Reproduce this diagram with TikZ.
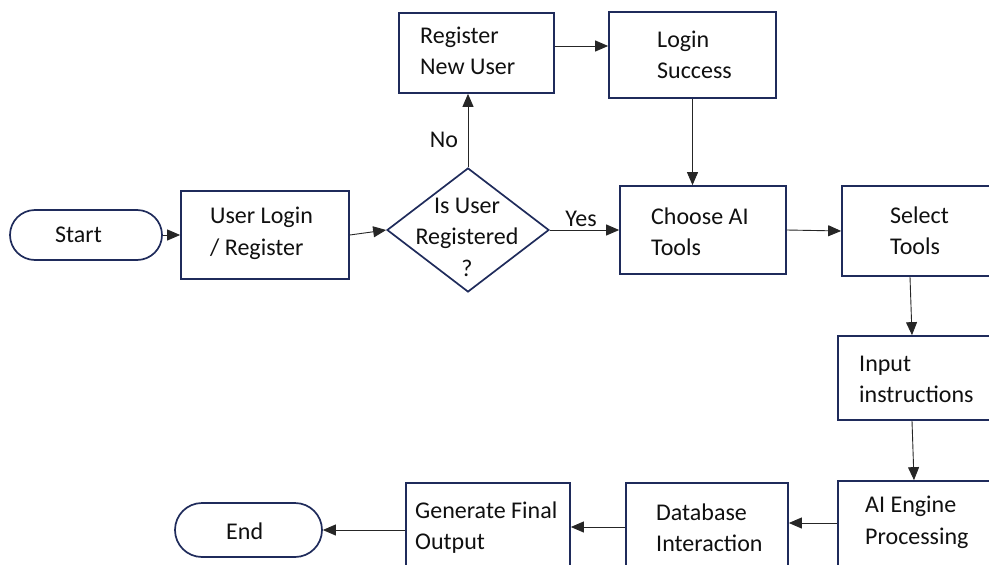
\documentclass[tikz,border=0pt]{standalone}
\usepackage{fontspec}
\setmainfont{Carlito}
\usetikzlibrary{shapes.geometric,shapes.misc,arrows.meta}
\definecolor{boxline}{HTML}{1F2B5B}
\definecolor{txt}{HTML}{101010}
\begin{document}
\begin{tikzpicture}[x=1pt,y=-1pt,
  box/.style={draw=boxline,line width=1.7pt,inner sep=0pt,minimum width=#1},
  term/.style={draw=boxline,line width=1.7pt,rounded rectangle,inner sep=0pt},
  decision/.style={draw=boxline,line width=1.7pt,diamond,inner sep=0pt,
    minimum width=162pt,minimum height=124pt},
  lbl/.style={anchor=west,align=left,text=txt,inner sep=0pt,
    font=\fontsize{24}{31.5}\selectfont},
  arr/.style={draw=black!85,line width=0.9pt,-{Triangle[length=13pt,width=11pt]}}
]
\useasboundingbox (0,0) rectangle (989,565);
\clip (0,0) rectangle (989,565);

% terminals
\node[term,minimum width=152pt,minimum height=50pt] (start) at (86,235) {};
\node[term,minimum width=147pt,minimum height=54pt] (stop) at (248.5,530) {};

% process boxes
\node[box=168pt,minimum height=88pt] (login) at (265,235) {};
\node[box=155pt,minimum height=80pt] (regnew) at (476.5,53) {};
\node[box=167pt,minimum height=86pt] (loginok) at (692.5,55) {};
\node[box=166pt,minimum height=88pt] (choose) at (703,230) {};
\node[box=168pt,minimum height=90pt] (select) at (926,231) {};
\node[box=168pt,minimum height=84pt] (input) at (922,378) {};
\node[box=168pt,minimum height=88pt] (engine) at (922,525) {};
\node[box=162pt,minimum height=88pt] (dbase) at (707,527) {};
\node[box=164pt,minimum height=88pt] (gen) at (488,527) {};

% decision
\node[decision] (dia) at (468,230) {};

% texts
\node[lbl] (tstart) at (55,235) {Start};
\node[lbl] (tstop) at (226,531) {End};
\node[lbl] (tlogin) at (210,233.5) {User Login\\/ Register};
\node[lbl] (tregnew) at (420,51) {Register\\New User};
\node[lbl] (tloginok) at (657,55) {Login\\Success};
\node[lbl] (tchoose) at (651,232) {Choose AI\\Tools};
\node[lbl] (tselect) at (890,231) {Select\\Tools};
\node[lbl] (tinput) at (859,379.5) {Input\\instructions};
\node[lbl] (tengine) at (865,522.5) {AI Engine\\Processing};
\node[lbl] (tdbase) at (656,527.5) {Database\\Interaction};
\node[lbl] (tgen) at (415,527.5) {Generate Final\\Output};
\node[lbl,anchor=center,align=center] (tdia) at (467,237) {Is User\\Registered\\?};
\node[lbl,anchor=center] (tno) at (444,140) {No};
\node[lbl,anchor=center] (tyes) at (581,219) {Yes};

% connectors
\draw[arr] (start.east) -- (login.west);
\draw[arr] (login.east) -- (dia.west);
\draw[arr] (dia.north) -- (dia.north |- regnew.south);
\draw[arr] (dia.east) -- (choose.west);
\coordinate (rn) at ([yshift=7pt]regnew.east);
\draw[arr] (rn) -- (rn -| loginok.west);
\draw[arr] (loginok.south) -- (loginok.south |- choose.north);
\draw[arr] (choose.east) -- (select.west);
\draw[arr] ([xshift=-16pt]select.south) -- ([xshift=-10pt]input.north);
\draw[arr] ([xshift=-10pt]input.south) -- ([xshift=-8pt]engine.north);
\coordinate (en) at ([yshift=2pt]engine.west);
\draw[arr] (en) -- (en -| dbase.east);
\draw[arr] (dbase.west) -- (gen.east);
\coordinate (gn) at (gen.west |- stop.east);
\draw[arr] (gn) -- (stop.east);
\end{tikzpicture}
\end{document}
